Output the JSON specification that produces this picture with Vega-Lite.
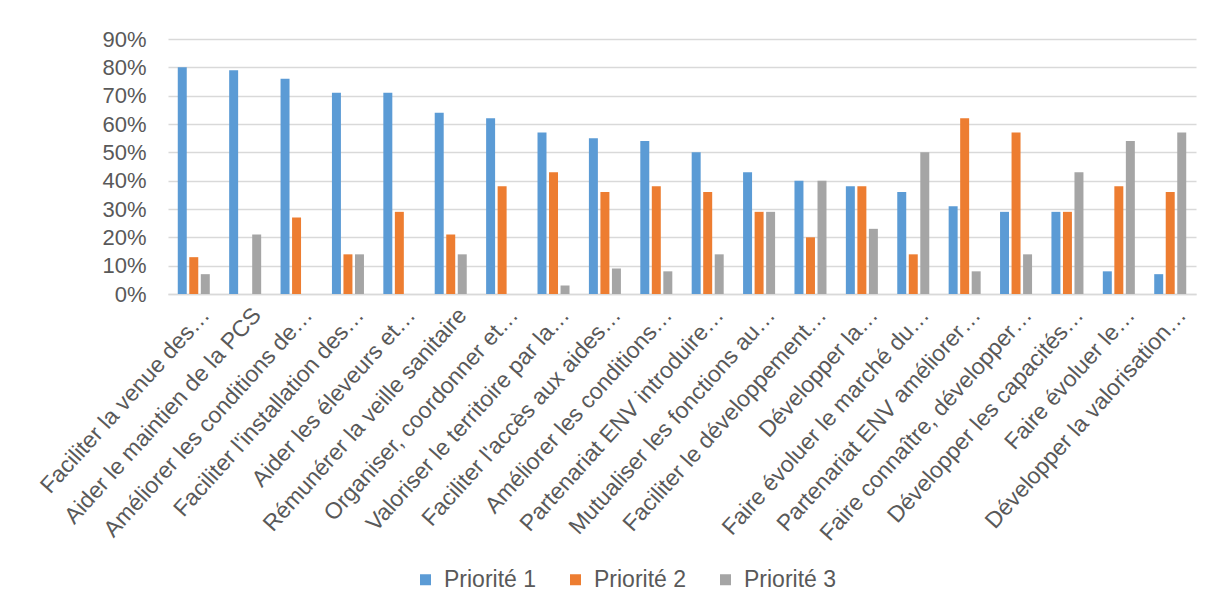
{
  "$schema": "https://vega.github.io/schema/vega-lite/v6.json",
  "width": 1028,
  "height": 255,
  "autosize": {"type": "none"},
  "padding": {"left": 168, "top": 39, "right": 18, "bottom": 318},
  "background": "white",
  "config": {
    "font": "Liberation Sans",
    "view": {"stroke": null}
  },
  "datasets": {
    "d": [
      {"cat": "Faciliter la venue des…", "serie": "Priorité 1", "value": 0.80},
      {"cat": "Faciliter la venue des…", "serie": "Priorité 2", "value": 0.13},
      {"cat": "Faciliter la venue des…", "serie": "Priorité 3", "value": 0.07},
      {"cat": "Aider le maintien de la PCS", "serie": "Priorité 1", "value": 0.79},
      {"cat": "Aider le maintien de la PCS", "serie": "Priorité 2", "value": 0},
      {"cat": "Aider le maintien de la PCS", "serie": "Priorité 3", "value": 0.21},
      {"cat": "Améliorer les conditions de…", "serie": "Priorité 1", "value": 0.76},
      {"cat": "Améliorer les conditions de…", "serie": "Priorité 2", "value": 0.27},
      {"cat": "Améliorer les conditions de…", "serie": "Priorité 3", "value": 0},
      {"cat": "Faciliter l'installation des…", "serie": "Priorité 1", "value": 0.71},
      {"cat": "Faciliter l'installation des…", "serie": "Priorité 2", "value": 0.14},
      {"cat": "Faciliter l'installation des…", "serie": "Priorité 3", "value": 0.14},
      {"cat": "Aider les éleveurs et…", "serie": "Priorité 1", "value": 0.71},
      {"cat": "Aider les éleveurs et…", "serie": "Priorité 2", "value": 0.29},
      {"cat": "Aider les éleveurs et…", "serie": "Priorité 3", "value": 0},
      {"cat": "Rémunérer la veille sanitaire", "serie": "Priorité 1", "value": 0.64},
      {"cat": "Rémunérer la veille sanitaire", "serie": "Priorité 2", "value": 0.21},
      {"cat": "Rémunérer la veille sanitaire", "serie": "Priorité 3", "value": 0.14},
      {"cat": "Organiser, coordonner et…", "serie": "Priorité 1", "value": 0.62},
      {"cat": "Organiser, coordonner et…", "serie": "Priorité 2", "value": 0.38},
      {"cat": "Organiser, coordonner et…", "serie": "Priorité 3", "value": 0},
      {"cat": "Valoriser le territoire par la…", "serie": "Priorité 1", "value": 0.57},
      {"cat": "Valoriser le territoire par la…", "serie": "Priorité 2", "value": 0.43},
      {"cat": "Valoriser le territoire par la…", "serie": "Priorité 3", "value": 0.03},
      {"cat": "Faciliter l'accès aux aides…", "serie": "Priorité 1", "value": 0.55},
      {"cat": "Faciliter l'accès aux aides…", "serie": "Priorité 2", "value": 0.36},
      {"cat": "Faciliter l'accès aux aides…", "serie": "Priorité 3", "value": 0.09},
      {"cat": "Améliorer les conditions…", "serie": "Priorité 1", "value": 0.54},
      {"cat": "Améliorer les conditions…", "serie": "Priorité 2", "value": 0.38},
      {"cat": "Améliorer les conditions…", "serie": "Priorité 3", "value": 0.08},
      {"cat": "Partenariat ENV introduire…", "serie": "Priorité 1", "value": 0.50},
      {"cat": "Partenariat ENV introduire…", "serie": "Priorité 2", "value": 0.36},
      {"cat": "Partenariat ENV introduire…", "serie": "Priorité 3", "value": 0.14},
      {"cat": "Mutualiser les fonctions au…", "serie": "Priorité 1", "value": 0.43},
      {"cat": "Mutualiser les fonctions au…", "serie": "Priorité 2", "value": 0.29},
      {"cat": "Mutualiser les fonctions au…", "serie": "Priorité 3", "value": 0.29},
      {"cat": "Faciliter le développement…", "serie": "Priorité 1", "value": 0.40},
      {"cat": "Faciliter le développement…", "serie": "Priorité 2", "value": 0.20},
      {"cat": "Faciliter le développement…", "serie": "Priorité 3", "value": 0.40},
      {"cat": "Développer la…", "serie": "Priorité 1", "value": 0.38},
      {"cat": "Développer la…", "serie": "Priorité 2", "value": 0.38},
      {"cat": "Développer la…", "serie": "Priorité 3", "value": 0.23},
      {"cat": "Faire évoluer le marché du…", "serie": "Priorité 1", "value": 0.36},
      {"cat": "Faire évoluer le marché du…", "serie": "Priorité 2", "value": 0.14},
      {"cat": "Faire évoluer le marché du…", "serie": "Priorité 3", "value": 0.50},
      {"cat": "Partenariat ENV améliorer…", "serie": "Priorité 1", "value": 0.31},
      {"cat": "Partenariat ENV améliorer…", "serie": "Priorité 2", "value": 0.62},
      {"cat": "Partenariat ENV améliorer…", "serie": "Priorité 3", "value": 0.08},
      {"cat": "Faire connaître, développer…", "serie": "Priorité 1", "value": 0.29},
      {"cat": "Faire connaître, développer…", "serie": "Priorité 2", "value": 0.57},
      {"cat": "Faire connaître, développer…", "serie": "Priorité 3", "value": 0.14},
      {"cat": "Développer les capacités…", "serie": "Priorité 1", "value": 0.29},
      {"cat": "Développer les capacités…", "serie": "Priorité 2", "value": 0.29},
      {"cat": "Développer les capacités…", "serie": "Priorité 3", "value": 0.43},
      {"cat": "Faire évoluer le…", "serie": "Priorité 1", "value": 0.08},
      {"cat": "Faire évoluer le…", "serie": "Priorité 2", "value": 0.38},
      {"cat": "Faire évoluer le…", "serie": "Priorité 3", "value": 0.54},
      {"cat": "Développer la valorisation…", "serie": "Priorité 1", "value": 0.07},
      {"cat": "Développer la valorisation…", "serie": "Priorité 2", "value": 0.36},
      {"cat": "Développer la valorisation…", "serie": "Priorité 3", "value": 0.57}
    ]
  },
  "data": {"name": "d"},
  "mark": {"type": "bar"},
  "encoding": {
    "x": {
      "field": "cat",
      "type": "nominal",
      "sort": null,
      "scale": {"paddingInner": 0.377, "paddingOuter": 0.19},
      "axis": {
        "title": null,
        "labelAngle": -48,
        "labelAlign": "right",
        "labelBaseline": "middle",
        "labelFontSize": 23,
        "labelColor": "#595959",
        "labelLimit": 0,
        "labelPadding": 17,
        "labelOffset": 12,
        "ticks": false,
        "domain": true,
        "domainColor": "#d9d9d9",
        "domainWidth": 1.5
      }
    },
    "xOffset": {
      "field": "serie",
      "type": "nominal",
      "scale": {"paddingInner": 0.22}
    },
    "y": {
      "field": "value",
      "type": "quantitative",
      "scale": {"domain": [0, 0.9], "nice": false},
      "axis": {
        "title": null,
        "format": ".0%",
        "values": [0, 0.1, 0.2, 0.3, 0.4, 0.5, 0.6, 0.7, 0.8, 0.9],
        "labelFontSize": 22,
        "labelColor": "#595959",
        "labelPadding": 22,
        "ticks": false,
        "domain": false,
        "gridColor": "#d9d9d9",
        "gridWidth": 1.5
      }
    },
    "color": {
      "field": "serie",
      "type": "nominal",
      "scale": {"domain": ["Priorité 1", "Priorité 2", "Priorité 3"], "range": ["#5B9BD5", "#ED7D31", "#A5A5A5"]},
      "legend": {
        "title": null,
        "orient": "none",
        "direction": "horizontal",
        "legendX": 246,
        "legendY": 529,
        "symbolType": "square",
        "symbolSize": 121,
        "symbolStrokeWidth": 0,
        "labelFontSize": 23,
        "labelColor": "#595959",
        "labelOffset": 7,
        "columnPadding": 27
      }
    }
  }
}
